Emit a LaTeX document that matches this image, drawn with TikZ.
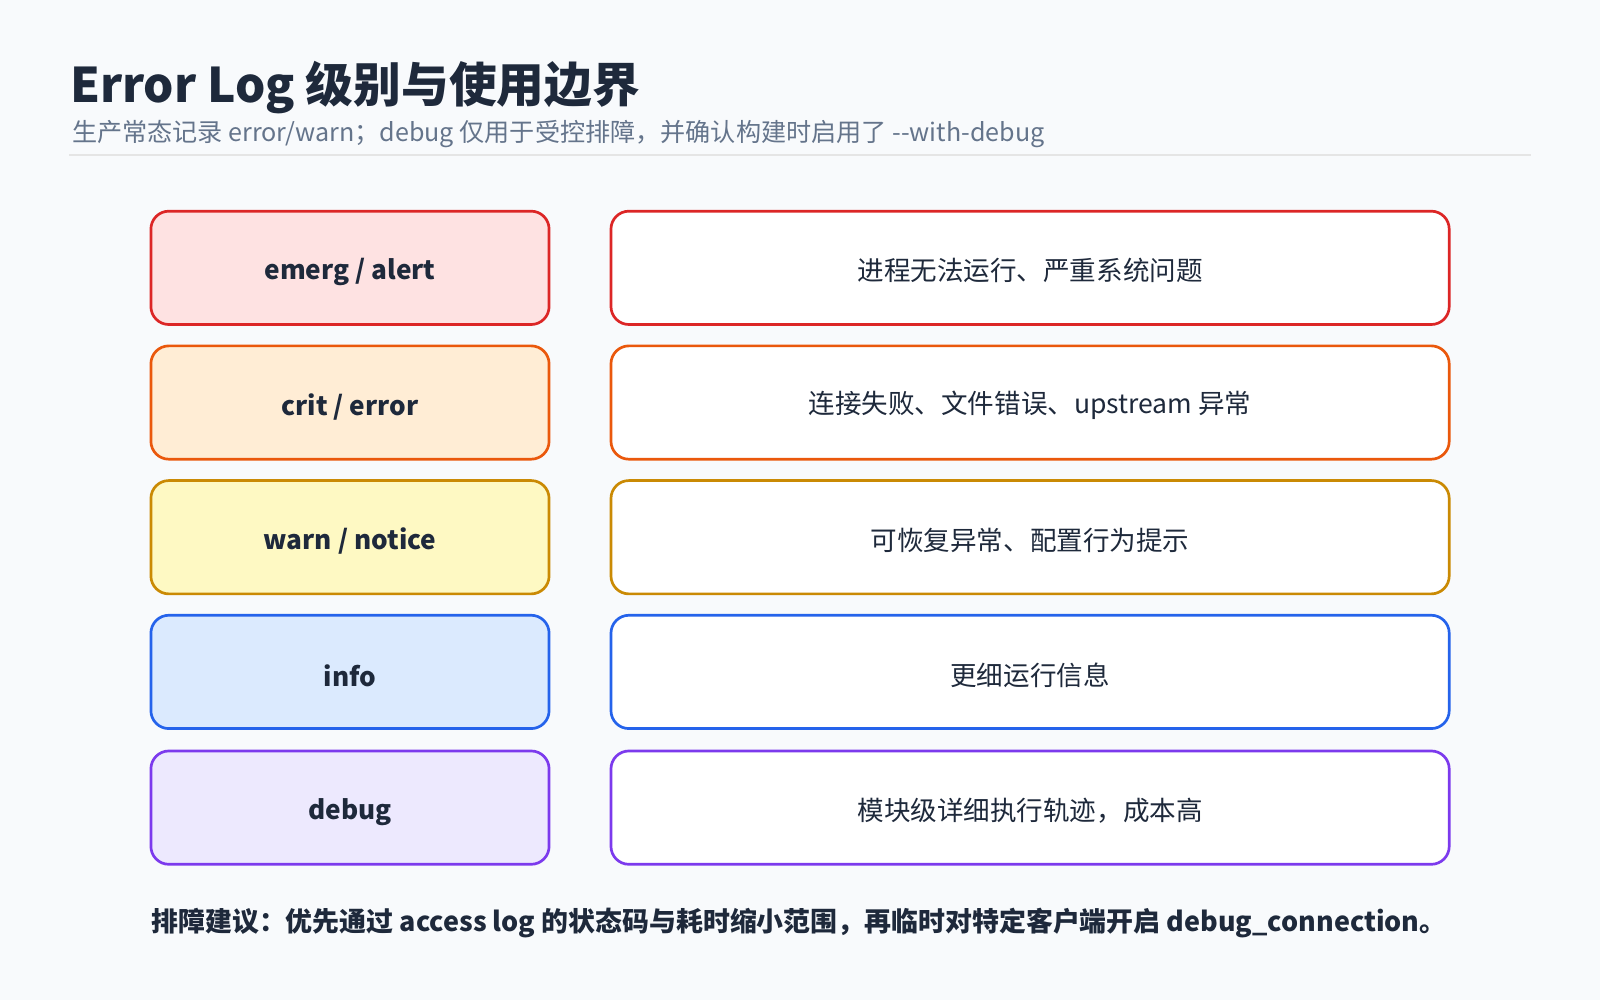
\documentclass[tikz,border=0pt]{standalone}
\usepackage{fontspec}
\setmainfont{Noto Sans CJK SC}
\definecolor{bg}{HTML}{F8FAFC}
\definecolor{ink}{HTML}{1E293B}
\definecolor{sub}{HTML}{64748B}
\definecolor{rl}{HTML}{DC2626}\definecolor{rf}{HTML}{FEE2E2}
\definecolor{ol}{HTML}{EA580C}\definecolor{of}{HTML}{FFEDD5}
\definecolor{yl}{HTML}{CA8A04}\definecolor{yf}{HTML}{FEF9C3}
\definecolor{bl}{HTML}{2563EB}\definecolor{bf}{HTML}{DBEAFE}
\definecolor{pl}{HTML}{7C3AED}\definecolor{pf}{HTML}{EDE9FE}
\begin{document}
\begin{tikzpicture}[x=0.01cm,y=-0.01cm,
 lvl/.style={draw=#1,line width=0.75pt,rounded corners=5pt,minimum width=3.9cm,minimum height=1.11cm,inner sep=0pt,text=ink,font=\fontsize{7.3}{9}\selectfont\bfseries},
 dsc/.style={draw=#1,fill=white,line width=0.75pt,rounded corners=5pt,minimum width=8.21cm,minimum height=1.11cm,inner sep=0pt,text=ink,font=\fontsize{7.4}{9}\selectfont}]
\fill[bg] (0,0) rectangle (1568,980);
\node[anchor=base west,inner sep=0pt,text=ink,font=\fontsize{13.3}{16}\selectfont\bfseries] (title) at (68,100) {Error Log 级别与使用边界};
\node[anchor=base west,inner sep=0pt,text=sub,font=\fontsize{7.0}{8}\selectfont] (subt) at (70,139) {生产常态记录 error/warn；debug 仅用于受控排障，并确认构建时启用了 -{}-with-debug};
\draw[line width=0.6pt,color=black!10] (68,152) -- (1500,152);
\foreach \n/\y/\c/\f/\a/\b in {
 1/262.5/rl/rf/{emerg / alert}/{进程无法运行、严重系统问题},
 2/394.5/ol/of/{crit / error}/{连接失败、文件错误、upstream 异常},
 3/526.5/yl/yf/{warn / notice}/{可恢复异常、配置行为提示},
 4/658.5/bl/bf/{info}/{更细运行信息},
 5/791.5/pl/pf/{debug}/{模块级详细执行轨迹，成本高}}{
 \node[lvl=\c,fill=\f] (l\n) at (343,\y) {};
 \node[text=ink,font=\fontsize{7.3}{9}\selectfont\bfseries,inner sep=0pt] at (343,\y+4) {\a};
 \node[dsc=\c] (d\n) at (1009.5,\y) {};
 \node[text=ink,font=\fontsize{7.4}{9}\selectfont,inner sep=0pt] at (1009.5,\y+3) {\b};
}
\node[inner sep=0pt,text=ink,font=\fontsize{7.5}{9}\selectfont\bfseries] (tip) at (783,905) {排障建议：优先通过 access log 的状态码与耗时缩小范围，再临时对特定客户端开启 debug\_connection。};
\end{tikzpicture}
\end{document}
